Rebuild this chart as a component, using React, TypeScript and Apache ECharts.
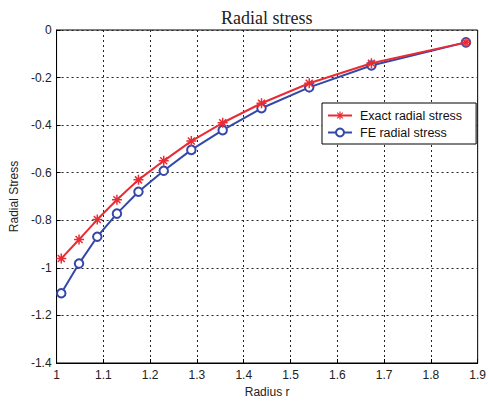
import React, { useEffect, useRef } from "react";
import * as echarts from "echarts";

// Radius values of the nodes
const radius = [1.01, 1.048, 1.087, 1.129, 1.175, 1.229, 1.288, 1.355, 1.438, 1.54, 1.673, 1.875];
// Analytical (exact) radial stress at the nodes
const exactStress = [-0.961, -0.881, -0.797, -0.714, -0.63, -0.55, -0.467, -0.39, -0.308, -0.224, -0.14, -0.052];
// Finite element radial stress at the nodes
const feStress = [-1.107, -0.982, -0.869, -0.772, -0.68, -0.592, -0.504, -0.421, -0.329, -0.241, -0.149, -0.052];

const xTicks = { min: 1, max: 1.9, interval: 0.1 };
const yTicks = { min: -1.4, max: 0, interval: 0.2 };

const RED = "#ea2b34";
const BLUE = "#3448a8";

// Asterisk marker built from four bars
const STAR =
  "path://M8.5 0 L11.5 0 L11.5 20 L8.5 20 Z " +
  "M0 8.5 L20 8.5 L20 11.5 L0 11.5 Z " +
  "M4.06 1.94 L18.06 15.94 L15.94 18.06 L1.94 4.06 Z " +
  "M15.94 1.94 L18.06 4.06 L4.06 18.06 L1.94 15.94 Z";

const SANS = "'Liberation Sans', Arial, sans-serif";

export default function App() {
  const ref = useRef<HTMLDivElement>(null);

  useEffect(() => {
    if (!ref.current) return;
    const chart = echarts.init(ref.current, null, { renderer: "svg" });
    const gridLine = { show: true, lineStyle: { color: "#222", width: 1, type: [2, 3] as any } };
    chart.setOption({
      animation: false,
      backgroundColor: "#fff",
      title: {
        text: "Radial stress",
        left: 216,
        top: 4,
        textStyle: {
          fontFamily: "'Liberation Serif', 'Times New Roman', serif",
          fontSize: 18,
          fontWeight: "normal",
          color: "#222",
        },
      },
      grid: {
        left: 55,
        right: 9,
        top: 30,
        bottom: 39,
        show: true,
        borderColor: "#000",
        borderWidth: 1,
      },
      legend: {
        orient: "vertical",
        left: 322,
        top: 103,
        backgroundColor: "#fff",
        borderColor: "#000",
        borderWidth: 1,
        borderRadius: 0,
        padding: [6, 14, 5, 5],
        itemWidth: 24,
        itemHeight: 10,
        itemGap: 4,
        textStyle: { fontFamily: SANS, fontSize: 12.5, color: "#111", padding: [0, 0, 0, 3] },
        data: ["Exact radial stress", "FE radial stress"],
      },
      xAxis: {
        type: "value",
        min: xTicks.min,
        max: xTicks.max,
        interval: xTicks.interval,
        name: "Radius r",
        nameLocation: "middle",
        nameGap: 23,
        nameTextStyle: { fontFamily: SANS, fontSize: 12, color: "#222" },
        axisLine: { show: true, onZero: false, lineStyle: { color: "#000" } },
        axisTick: { show: true, inside: true, length: 4, lineStyle: { color: "#000" } },
        axisLabel: { fontFamily: SANS, fontSize: 12, color: "#222", margin: 6 },
        splitLine: gridLine,
      },
      yAxis: {
        type: "value",
        min: yTicks.min,
        max: yTicks.max,
        interval: yTicks.interval,
        name: "Radial Stress",
        nameLocation: "middle",
        nameGap: 33,
        nameTextStyle: { fontFamily: SANS, fontSize: 12, color: "#222" },
        axisLine: { show: true, lineStyle: { color: "#000" } },
        axisTick: { show: true, inside: true, length: 4, lineStyle: { color: "#000" } },
        axisLabel: { fontFamily: SANS, fontSize: 12, color: "#222", margin: 5 },
        splitLine: gridLine,
      },
      series: [
        {
          name: "Exact radial stress",
          type: "line",
          data: radius.map((r, i) => [r, exactStress[i]]),
          symbol: STAR,
          symbolSize: 10,
          showAllSymbol: true,
          lineStyle: { color: RED, width: 2 },
          itemStyle: { color: RED, borderWidth: 0 },
          z: 3,
        },
        {
          name: "FE radial stress",
          type: "line",
          data: radius.map((r, i) => [r, feStress[i]]),
          symbol: "emptyCircle",
          symbolSize: 8.5,
          showAllSymbol: true,
          lineStyle: { color: BLUE, width: 2 },
          itemStyle: { color: BLUE, borderColor: BLUE, borderWidth: 1.6 },
          z: 2,
        },
      ],
    });
    return () => chart.dispose();
  }, []);

  return <div ref={ref} style={{ width: 489, height: 403, position: "absolute", left: 0, top: 0 }} />;
}
